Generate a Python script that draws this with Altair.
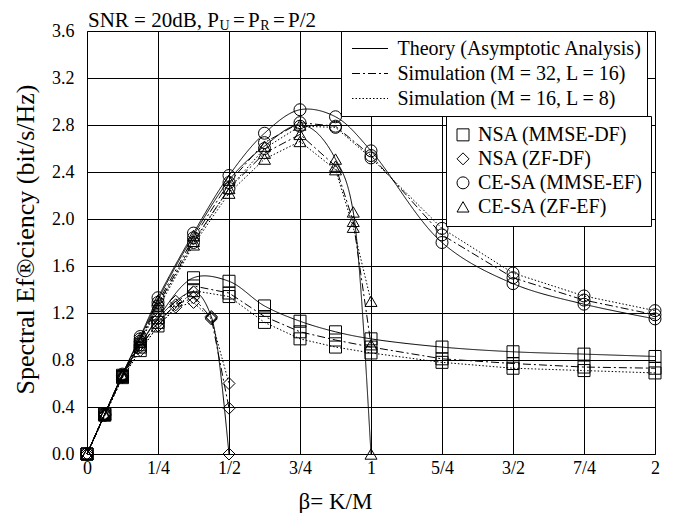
import altair as alt
import pandas as pd

FONT = "Liberation Serif"

# ---------------- data ----------------
x_main = [0, 1/16, 1/8, 3/16, 1/4, 3/8, 1/2, 5/8, 3/4, 7/8, 1, 5/4, 3/2, 7/4, 2]
x_nsa_zf = [0, 1/16, 1/8, 3/16, 1/4, 5/16, 3/8, 7/16, 1/2]
x_ce_zf = [0, 1/16, 1/8, 3/16, 1/4, 3/8, 1/2, 5/8, 3/4, 7/8, 15/16, 1]

schemes = ["NSA (MMSE-DF)", "NSA (ZF-DF)", "CE-SA (MMSE-EF)", "CE-SA (ZF-EF)"]
kinds = ["Theory (Asymptotic Analysis)", "Simulation (M = 32, L = 16)", "Simulation (M = 16, L = 8)"]

nsa_mmse_theory = [0, 0.34, 0.67, 0.93, 1.16, 1.50, 1.47, 1.26, 1.13, 1.04, 0.98, 0.91, 0.87, 0.85, 0.83]
nsa_mmse_m32 = [0, 0.34, 0.66, 0.91, 1.12, 1.43, 1.37, 1.17, 1.04, 0.97, 0.91, 0.81, 0.77, 0.74, 0.73]
nsa_mmse_m16 = [0, 0.33, 0.65, 0.88, 1.09, 1.39, 1.34, 1.12, 0.98, 0.91, 0.86, 0.78, 0.73, 0.71, 0.69]

nsa_zf_theory = [0, 0.34, 0.67, 0.93, 1.15, 1.30, 1.38, 1.17, 0.0]
nsa_zf_m32 = [0, 0.34, 0.66, 0.91, 1.12, 1.27, 1.33, 1.16, 0.39]
nsa_zf_m16 = [0, 0.33, 0.65, 0.88, 1.09, 1.25, 1.29, 1.15, 0.60]

ce_mmse_theory = [0, 0.34, 0.68, 1.00, 1.33, 1.88, 2.37, 2.73, 2.93, 2.87, 2.58, 1.80, 1.45, 1.275, 1.15]
ce_mmse_m32 = [0, 0.34, 0.67, 0.98, 1.29, 1.84, 2.31, 2.65, 2.82, 2.79, 2.54, 1.865, 1.50, 1.31, 1.185]
ce_mmse_m16 = [0, 0.33, 0.66, 0.96, 1.26, 1.80, 2.26, 2.60, 2.79, 2.78, 2.52, 1.92, 1.54, 1.345, 1.22]

ce_zf_theory = [0, 0.34, 0.68, 0.99, 1.31, 1.86, 2.33, 2.62, 2.80, 2.51, 2.06, 0.0]
ce_zf_m32 = [0, 0.34, 0.67, 0.97, 1.27, 1.81, 2.26, 2.56, 2.72, 2.45, 1.98, 0.93]
ce_zf_m16 = [0, 0.33, 0.66, 0.95, 1.24, 1.78, 2.22, 2.51, 2.66, 2.42, 1.93, 1.30]

x_tick_values = [0, 0.25, 0.5, 0.75, 1, 1.25, 1.5, 1.75, 2]
x_tick_labels = ["0", "1/4", "1/2", "3/4", "1", "5/4", "3/2", "7/4", "2"]
y_tick_values = [0, 0.4, 0.8, 1.2, 1.6, 2.0, 2.4, 2.8, 3.2, 3.6]

# ---------------- build the long table ----------------
series = [
    (schemes[0], x_main, [nsa_mmse_theory, nsa_mmse_m32, nsa_mmse_m16]),
    (schemes[1], x_nsa_zf, [nsa_zf_theory, nsa_zf_m32, nsa_zf_m16]),
    (schemes[2], x_main, [ce_mmse_theory, ce_mmse_m32, ce_mmse_m16]),
    (schemes[3], x_ce_zf, [ce_zf_theory, ce_zf_m32, ce_zf_m16]),
]
rows = []
for scheme, xs, ys3 in series:
    for kind, ys in zip(kinds, ys3):
        for i, (xv, yv) in enumerate(zip(xs, ys)):
            rows.append({"scheme": scheme, "kind": kind, "x": xv, "y": yv, "order": i,
                         "curve": scheme + " | " + kind})
df = pd.DataFrame(rows)

x_enc = alt.X("x:Q", scale=alt.Scale(domain=[0, 2], nice=False, zero=False),
              axis=alt.Axis(values=x_tick_values,
                            labelExpr="[" + ",".join("'" + s + "'" for s in x_tick_labels) + "][round(datum.value*4)]",
                            grid=True, gridColor="black", gridOpacity=1, gridWidth=1,
                            ticks=False, tickSize=0, labelPadding=5.5, labelFont=FONT,
                            labelFontSize=18, labelColor="black", labelFlush=False,
                            domainColor="black", title="\u03b2= K/M", titleFont=FONT,
                            titleFontSize=23, titleFontWeight="normal", titleColor="black",
                            titleX=248, titleY=54, titleAlign="center",
                            titleBaseline="alphabetic"))
y_enc = alt.Y("y:Q", scale=alt.Scale(domain=[0, 3.6], nice=False, zero=False),
              axis=alt.Axis(values=y_tick_values, format=".1f",
                            grid=True, gridColor="black", gridOpacity=1, gridWidth=1,
                            ticks=False, tickSize=0, labelPadding=13, labelFont=FONT,
                            labelFontSize=18, labelColor="black", labelFlush=False,
                            domainColor="black", title="Spectral Ef\u00aeciency (bit/s/Hz)",
                            titleFont=FONT, titleFontSize=26, titleFontWeight="normal",
                            titleColor="black", titleX=-49, titleY=208, titleAngle=270,
                            titleAlign="center", titleBaseline="bottom"))

dash_enc = alt.StrokeDash(
    "kind:N",
    scale=alt.Scale(domain=kinds, range=[[1, 0], [8, 3, 2, 3], [1.5, 2]]),
    legend=alt.Legend(title=None, orient="none", legendX=254, legendY=0,
                      symbolType="stroke", symbolSize=1296, symbolStrokeWidth=1,
                      symbolStrokeColor="black", labelFont=FONT, labelFontSize=20,
                      labelColor="black", padding=5, clipHeight=25, rowPadding=0,
                      symbolOffset=5.5, labelOffset=9, strokeColor="black",
                      fillColor="white", cornerRadius=0, labelLimit=500,
                      labelExpr="datum.label + '\u00a0\u00a0'"),
)

base = alt.Chart(df)

line_smooth = base.transform_filter(
    (alt.datum.kind == kinds[0]) & ((alt.datum.scheme == schemes[0]) | (alt.datum.scheme == schemes[2]))
).mark_line(interpolate="catmull-rom", color="black", strokeWidth=1).encode(
    x=x_enc, y=y_enc, strokeDash=dash_enc, detail="curve:N", order="order:Q")

line_mono = base.transform_filter(
    (alt.datum.kind == kinds[0]) & ((alt.datum.scheme == schemes[1]) | (alt.datum.scheme == schemes[3]))
).mark_line(interpolate="monotone", color="black", strokeWidth=1).encode(
    x=x_enc, y=y_enc, strokeDash=dash_enc, detail="curve:N", order="order:Q")

line_sim = base.transform_filter(
    alt.datum.kind != kinds[0]
).mark_line(color="black", strokeWidth=1).encode(
    x=x_enc, y=y_enc, strokeDash=dash_enc, detail="curve:N", order="order:Q")

points = base.mark_point(filled=False, color="black", size=144, strokeWidth=1, opacity=1).encode(
    x=x_enc, y=y_enc,
    shape=alt.Shape("scheme:N",
                    scale=alt.Scale(domain=schemes, range=["square", "diamond", "circle", "triangle-up"]),
                    legend=alt.Legend(title=None, orient="none", legendX=359, legendY=85,
                                      symbolSize=144, symbolStrokeWidth=1, symbolStrokeColor="black",
                                      symbolFillColor="white", labelFont=FONT, labelFontSize=20,
                                      labelColor="black", padding=7, clipHeight=23.7, rowPadding=0,
                                      symbolOffset=0, labelOffset=5, strokeColor="black",
                                      fillColor="white", cornerRadius=0, labelLimit=500,
                                      labelExpr="datum.label + '\u00a0'")),
)

# ---------------- title with subscripts ----------------
def piece(text, x, y, size):
    return alt.Chart(pd.DataFrame({"t": [text]})).mark_text(
        font=FONT, fontSize=size, align="left", baseline="alphabetic", color="black"
    ).encode(text="t:N", x=alt.value(x), y=alt.value(y))

title_layers = [
    piece("SNR = 20dB, P", 1, -4, 21),
    piece("U", 132.5, -1, 14),
    piece("=", 146, -4, 21),
    piece("P", 161, -4, 21),
    piece("R", 173.2, -1, 14),
    piece("=", 186, -4, 21),
    piece("P/2", 201, -4, 21),
]

chart = alt.layer(line_smooth, line_mono, line_sim, points, *title_layers).properties(
    width=568, height=423,
    autosize=alt.AutoSizeParams(type="none"),
    padding={"left": 79, "top": 23, "right": 21, "bottom": 59},
    background="white",
).configure_view(strokeWidth=0)

chart.save("out.html", embed_options={"renderer": "svg", "actions": False})
